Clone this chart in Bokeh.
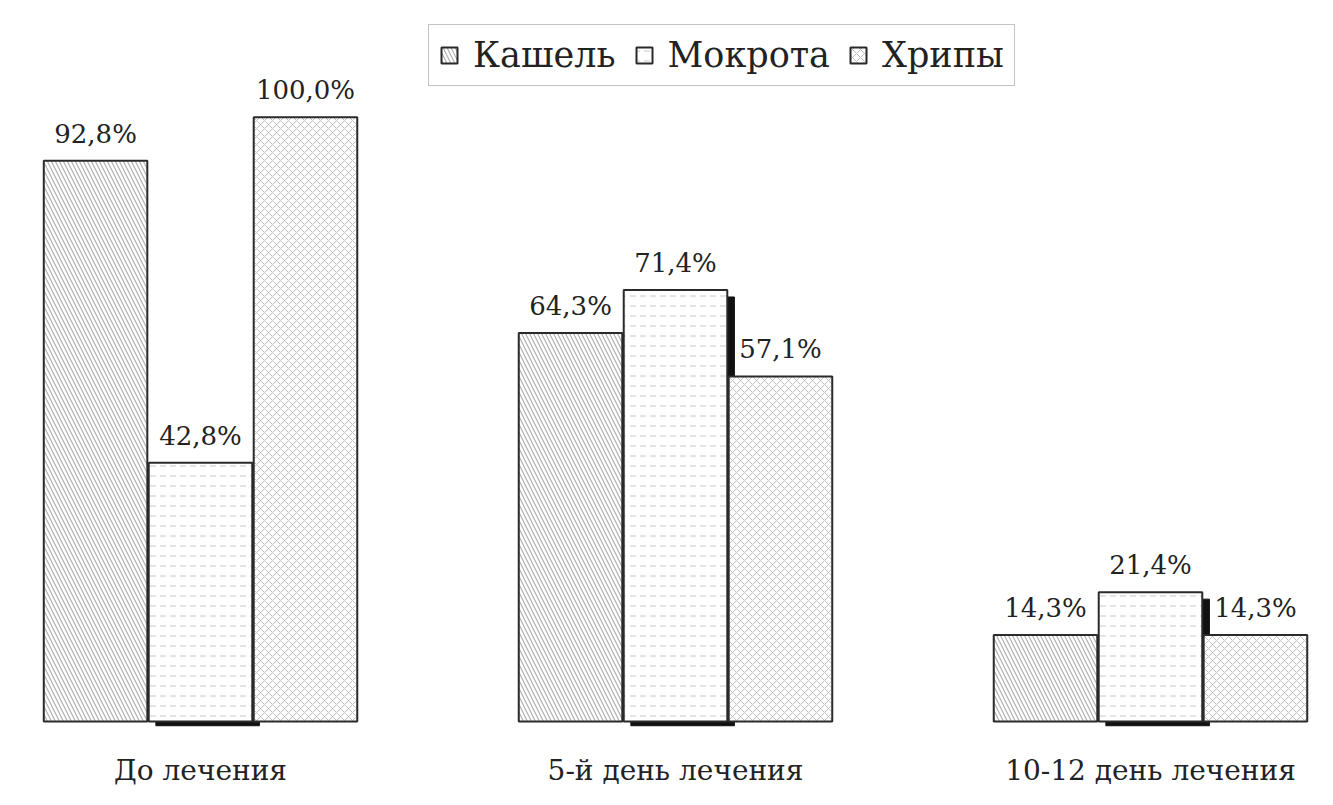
from bokeh.plotting import figure
from bokeh.models import ColumnDataSource, Range1d, FixedTicker, Legend, LegendItem
from bokeh.transform import dodge
from bokeh.core.properties import value
from bokeh.embed import file_html
from bokeh.resources import INLINE

groups = ["До лечения", "5-й день лечения", "10-12 день лечения"]
series = ["Кашель", "Мокрота", "Хрипы"]
kashel = [92.8, 64.3, 14.3]
mokrota = [42.8, 71.4, 21.4]
hripy = [100.0, 57.1, 14.3]

def fmt(v):
    return f"{v:.1f}".replace(".", ",") + "%"

x = list(range(len(groups)))
src = ColumnDataSource(dict(
    x=x,
    kashel=kashel, mokrota=mokrota, hripy=hripy,
    lk=[fmt(v) for v in kashel], lm=[fmt(v) for v in mokrota], lh=[fmt(v) for v in hripy],
    shadow_top=[v - 1.15 for v in mokrota],
))

FONT = "DejaVu Serif"
p = figure(width=1317, height=789, output_backend="svg", toolbar_location=None,
           x_range=Range1d(-0.4211, 2.3516), y_range=Range1d(-0.99, 119.31),
           y_axis_location=None, min_border_left=0, min_border_right=0,
           min_border_top=0, min_border_bottom=60)
p.grid.visible = False
p.outline_line_color = None
p.background_fill_color = "white"

W = 0.218
OFF = 0.221
edge = "#2a2a2a"

# shadow behind Мокрота
p.vbar(x=dodge("x", 0.015, range=p.x_range), top="shadow_top", bottom=-0.7, width=W,
       source=src, fill_color="#111111", line_color="#111111")

r1 = p.vbar(x=dodge("x", -OFF, range=p.x_range), top="kashel", bottom=0, width=W, source=src,
            fill_color="white", line_color=edge, line_width=2,
            hatch_pattern="left_diagonal_line", hatch_color="#b0b0b0", hatch_scale=8, hatch_weight=1.2)
r2 = p.vbar(x=dodge("x", 0, range=p.x_range), top="mokrota", bottom=0, width=W, source=src,
            fill_color="white", line_color=edge, line_width=2,
            hatch_pattern="horizontal_dash", hatch_color="#c8c8c8", hatch_scale=10, hatch_weight=1)
r3 = p.vbar(x=dodge("x", OFF, range=p.x_range), top="hripy", bottom=0, width=W, source=src,
            fill_color="white", line_color=edge, line_width=2,
            hatch_pattern="diagonal_cross", hatch_color="#c0c0c0", hatch_scale=8, hatch_weight=1)

for col, lab, off in [("kashel", "lk", -OFF), ("mokrota", "lm", 0), ("hripy", "lh", OFF)]:
    p.text(x=dodge("x", off, range=p.x_range), y=col, text=lab, source=src,
           text_align="center", text_baseline="bottom", y_offset=-12,
           text_font=value(FONT), text_font_size="26px", text_color="#222222")

p.xaxis.ticker = FixedTicker(ticks=x)
p.xaxis.major_label_overrides = {i: g for i, g in enumerate(groups)}
p.xaxis.axis_line_color = None
p.xaxis.major_tick_line_color = None
p.xaxis.minor_tick_line_color = None
p.xaxis.major_label_text_font = FONT
p.xaxis.major_label_text_font_size = "28px"
p.xaxis.major_label_text_color = "#222222"
p.xaxis.major_label_standoff = 20

legend = Legend(items=[LegendItem(label=series[0], renderers=[r1]),
                       LegendItem(label=series[1], renderers=[r2]),
                       LegendItem(label=series[2], renderers=[r3])],
                orientation="horizontal", location=(428, 641),
                label_text_font=FONT, label_text_font_size="35px", label_text_color="#222222",
                glyph_width=20, glyph_height=20, spacing=18, label_standoff=14,
                padding=10, margin=0,
                border_line_color="#888888", border_line_width=1.5,
                background_fill_color="white", background_fill_alpha=1)
p.add_layout(legend, "center")

open("out.html", "w").write(file_html(p, INLINE))
